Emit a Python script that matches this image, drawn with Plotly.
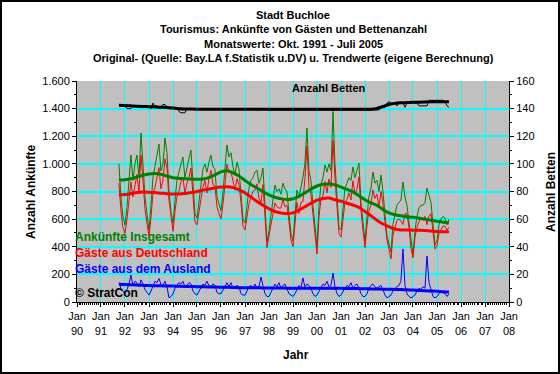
import pandas as pd
import plotly.graph_objects as go

# ---------------- data ----------------
months = pd.date_range("1991-10-01", "2005-07-01", freq="MS")
quarters = pd.date_range("1991-10-01", "2005-07-01", freq="3MS")

total = [
    1000, 760, 620,
    557, 690, 860, 1064, 880, 1000, 1064, 900, 1223, 1010, 760, 640,
    521, 700, 900, 980, 1050, 1144, 950, 1000, 1187, 1080, 800, 650,
    572, 760, 880, 940, 1000, 1050, 900, 980, 1040, 1100, 820, 640,
    608, 720, 850, 960, 1000, 940, 1010, 1064, 980, 960, 760, 700,
    660, 800, 980, 1137, 1050, 1080, 980, 920, 1013, 960, 780, 600,
    572, 700, 820, 880, 900, 940, 955, 860, 900, 970, 700, 434,
    520, 640, 760, 847, 800, 820, 780, 861, 820, 800, 640, 500,
    440, 640, 811, 760, 820, 900, 1000, 1260, 950, 880, 700, 560,
    398, 700, 850, 900, 992, 940, 1000, 950, 1380, 1000, 760, 536,
    521, 700, 820, 860, 900, 880, 977, 900, 950, 1006, 720, 560,
    434, 620, 760, 820, 941, 860, 880, 800, 920, 800, 620, 480,
    420, 362, 560, 640, 700, 720, 738, 869, 760, 700, 580, 420,
    340, 520, 620, 680, 700, 700, 720, 825, 760, 720, 560, 413,
    450, 560, 600, 620, 608, 560, 600,
]
germany = [
    860, 660, 540,
    497, 600, 730, 869, 760, 850, 924, 790, 1063, 880, 670, 570,
    471, 620, 780, 830, 910, 974, 820, 880, 1037, 970, 740, 610,
    512, 660, 760, 800, 870, 900, 790, 860, 900, 970, 740, 580,
    558, 640, 740, 830, 880, 790, 890, 954, 850, 840, 690, 640,
    600, 710, 860, 997, 940, 940, 880, 810, 893, 850, 720, 550,
    522, 620, 710, 760, 800, 810, 855, 750, 719, 850, 640, 394,
    480, 570, 660, 717, 690, 680, 680, 741, 690, 700, 580, 450,
    400, 580, 721, 640, 720, 726, 890, 1130, 830, 780, 640, 520,
    348, 620, 740, 770, 872, 790, 890, 830, 1170, 890, 700, 496,
    471, 620, 720, 740, 790, 740, 877, 780, 820, 906, 660, 520,
    394, 560, 660, 700, 811, 750, 780, 690, 800, 710, 570, 450,
    380, 312, 480, 540, 590, 600, 588, 560, 640, 640, 540, 390,
    320, 470, 540, 580, 610, 590, 620, 560, 620, 640, 520, 383,
    410, 500, 520, 550, 548, 520, 540,
]
foreign = [
    140, 100, 80,
    60, 90, 130, 195, 120, 150, 140, 110, 160, 130, 90, 70,
    50, 80, 120, 150, 140, 170, 130, 120, 150, 110, 30, 40,
    60, 100, 120, 140, 130, 150, 110, 120, 140, 130, 80, 60,
    50, 80, 110, 130, 120, 150, 120, 110, 130, 120, 70, 60,
    60, 90, 120, 140, 110, 140, 100, 110, 120, 110, 60, 50,
    50, 80, 110, 120, 100, 130, 100, 110, 181, 120, 60, 40,
    40, 70, 100, 130, 110, 140, 100, 120, 130, 100, 60, 50,
    40, 60, 90, 120, 100, 174, 110, 130, 120, 100, 60, 40,
    50, 80, 110, 130, 120, 150, 110, 120, 210, 110, 60, 40,
    50, 80, 100, 120, 110, 140, 100, 120, 130, 100, 60, 40,
    40, 60, 100, 120, 130, 110, 100, 110, 120, 90, 50, 30,
    40, 50, 80, 100, 110, 120, 150, 384, 120, 60, 40, 30,
    40, 50, 80, 100, 90, 110, 100, 333, 140, 80, 40, 30,
    40, 60, 80, 70, 60, 40, 60,
]
beds = [
    143, 143, 143,
    142, 140, 140, 140, 142, 142, 142, 142, 142, 142, 142, 142,
    141, 140, 144, 142, 142, 140, 141, 143, 143, 141, 141, 141,
    140, 140, 140, 138, 137, 137, 137, 140, 140, 140, 140, 140,
    140, 140, 140, 140, 140, 140, 140, 140, 140, 140, 140, 140,
    140, 140, 140, 140, 140, 140, 140, 140, 140, 140, 140, 140,
    140, 140, 140, 140, 140, 140, 139, 139, 140, 140, 140, 139,
    139, 139, 139, 139, 139, 139, 139, 139, 139, 139, 139, 139,
    139, 139, 139, 139, 139, 139, 139, 139, 139, 139, 139, 139,
    139, 139, 139, 139, 139, 139, 139, 139, 139, 139, 139, 139,
    139, 139, 139, 139, 139, 139, 139, 139, 139, 139, 139, 139,
    139, 139, 139, 139, 139, 139, 139, 139, 141, 141, 141, 144,
    145, 144, 144, 144, 142, 144, 144, 144, 141, 144, 144, 144,
    144, 144, 144, 142, 142, 142, 142, 142, 146, 146, 146, 146,
    146, 146, 146, 146, 145, 142, 141,
]

total_trend = [
    883,
    885, 892, 905, 918, 927, 930, 925, 912, 900, 895, 893, 890,
    888, 890, 900, 920, 942, 950, 935, 912, 880, 850, 825, 800,
    775, 758, 748, 742, 748, 765, 790, 818, 840, 852, 855, 848,
    832, 815, 797, 770, 740, 718, 700, 670, 645, 632, 624, 618,
    614, 607, 600, 592, 585, 578, 572,
]
germany_trend = [
    775,
    778, 785, 792, 796, 795, 792, 788, 784, 782, 782, 785, 792,
    800, 810, 818, 826, 832, 834, 828, 812, 790, 760, 728, 700,
    675, 655, 645, 640, 645, 665, 690, 715, 737, 750, 753, 740,
    730, 715, 702, 685, 655, 625, 592, 565, 545, 528, 522, 521,
    520, 519, 517, 514, 511, 509, 508,
]
foreign_trend = [
    128,
    127, 125, 123, 121, 119, 118, 117, 116, 115, 114, 113, 112,
    111, 110, 109, 108, 107, 106, 105, 104, 104, 103, 103, 102,
    102, 101, 101, 100, 100, 100, 100, 100, 100, 100, 99, 99,
    99, 98, 98, 97, 96, 95, 94, 93, 92, 91, 90, 88,
    86, 84, 82, 80, 78, 75, 73,
]
beds_trend = [
    142.5,
    142.3, 142.0, 141.8, 141.6, 141.4, 141.2, 141.0, 140.8, 140.4, 140.0, 139.8, 139.7,
    139.6, 139.6, 139.6, 139.6, 139.5, 139.5, 139.5, 139.5, 139.5, 139.5, 139.5, 139.5,
    139.5, 139.5, 139.5, 139.5, 139.5, 139.5, 139.5, 139.5, 139.5, 139.5, 139.5, 139.5,
    139.5, 139.5, 139.5, 139.5, 139.5, 139.6, 140.2, 141.5, 143.0, 143.8, 144.2, 144.4,
    144.6, 144.7, 144.8, 144.9, 145.0, 145.0, 145.0,
]

year_ticks = [f"{y}-01-01" for y in range(1990, 2009)]
year_labels = [f"Jan<br>{str(y)[2:]}" for y in range(1990, 2009)]
left_ticks = list(range(0, 1601, 200))
left_labels = ["0", "200", "400", "600", "800", "1.000", "1.200", "1.400", "1.600"]
right_ticks = list(range(0, 161, 20))

title_lines = [
    "Stadt Buchloe",
    "Tourismus: Ankünfte von Gästen und Bettenanzahl",
    "Monatswerte: Okt. 1991 - Juli 2005",
    "Original- (Quelle: Bay.LA f.Statistik u.DV) u. Trendwerte (eigene Berechnung)",
]

# ---------------- figure ----------------
W, H = 560, 374
ML, MR, MT, MB = 77, 51, 81, 72
PW, PH = W - ML - MR, H - MT - MB
FONT = "Liberation Sans"

def px(x):
    return (x - ML) / PW

def py(y):
    return (H - MB - y) / PH

GREEN, RED, BLUE = "#008000", "#FF0000", "#0000FF"

fig = go.Figure()
fig.add_trace(go.Scatter(x=months, y=total, mode="lines", line=dict(color=GREEN, width=1)))
fig.add_trace(go.Scatter(x=months, y=germany, mode="lines", line=dict(color=RED, width=1)))
fig.add_trace(go.Scatter(x=months, y=foreign, mode="lines", line=dict(color=BLUE, width=1)))
fig.add_trace(go.Scatter(x=quarters, y=total_trend, mode="lines", line=dict(color=GREEN, width=3, shape="spline")))
fig.add_trace(go.Scatter(x=quarters, y=germany_trend, mode="lines", line=dict(color=RED, width=3, shape="spline")))
fig.add_trace(go.Scatter(x=quarters, y=foreign_trend, mode="lines", line=dict(color=BLUE, width=3, shape="spline")))
fig.add_trace(go.Scatter(x=months, y=beds, mode="lines", line=dict(color="black", width=1), yaxis="y2"))
fig.add_trace(go.Scatter(x=quarters, y=beds_trend, mode="lines", line=dict(color="black", width=3, shape="spline"), yaxis="y2"))

annotations = []
for i, t in enumerate(title_lines):
    annotations.append(dict(text=f"<b>{t}</b>", x=0.5, xref="paper", xanchor="center",
                            y=py([15, 29, 44, 58][i]), yref="paper", yanchor="middle",
                            showarrow=False, font=dict(family=FONT, size=11, color="black")))
legend_items = [("Ankünfte Insgesamt", GREEN, 237), ("Gäste aus Deutschland", RED, 253),
                ("Gäste aus dem Ausland", BLUE, 269), ("© StratCon", "black", 293)]
for t, c, y in legend_items:
    annotations.append(dict(text=f"<b>{t}</b>", x=px(73), xref="paper", xanchor="left",
                            y=py(y), yref="paper", yanchor="middle", showarrow=False,
                            font=dict(family=FONT, size=12, color=c)))
annotations.append(dict(text="<b>Anzahl Betten</b>", x=px(290), xref="paper", xanchor="left",
                        y=py(88), yref="paper", yanchor="middle", showarrow=False,
                        font=dict(family=FONT, size=11, color="black")))
annotations.append(dict(text="<b>Anzahl Ankünfte</b>", x=px(31), xref="paper", xanchor="center",
                        y=py(192), yref="paper", yanchor="middle", showarrow=False, textangle=-90,
                        font=dict(family=FONT, size=12, color="black")))
annotations.append(dict(text="<b>Anzahl Betten</b>", x=px(551), xref="paper", xanchor="center",
                        y=py(192), yref="paper", yanchor="middle", showarrow=False, textangle=-90,
                        font=dict(family=FONT, size=12, color="black")))
annotations.append(dict(text="<b>Jahr</b>", x=px(296), xref="paper", xanchor="center",
                        y=py(355), yref="paper", yanchor="middle", showarrow=False,
                        font=dict(family=FONT, size=12, color="black")))

shapes = [dict(type="rect", xref="paper", yref="paper",
               x0=px(1), x1=px(W - 1), y0=py(H - 1), y1=py(1),
               line=dict(color="black", width=2), fillcolor="rgba(0,0,0,0)", layer="above")]

fig.update_layout(
    width=W, height=H, autosize=False,
    margin=dict(l=ML, r=MR, t=MT, b=MB, pad=0),
    paper_bgcolor="white", plot_bgcolor="#C0C0C0",
    showlegend=False,
    font=dict(family=FONT, size=11, color="black"),
    annotations=annotations, shapes=shapes,
    xaxis=dict(type="date", range=["1990-01-01", "2008-01-01"],
               tickvals=year_ticks, ticktext=year_labels,
               showgrid=True, gridcolor="#00FFFF", gridwidth=1,
               showline=True, linecolor="black", linewidth=1,
               ticks="outside", ticklen=4, tickcolor="black",
               minor=dict(dtick="M1", ticks="outside", ticklen=2, tickcolor="black", showgrid=False),
               tickfont=dict(family=FONT, size=11), zeroline=False),
    yaxis=dict(range=[0, 1600], tickvals=left_ticks, ticktext=left_labels,
               showgrid=True, gridcolor="#00FFFF", gridwidth=2,
               showline=True, linecolor="black", linewidth=1,
               ticks="outside", ticklen=4, tickcolor="black",
               minor=dict(dtick=100, ticks="outside", ticklen=2, tickcolor="black", showgrid=False),
               tickfont=dict(family=FONT, size=11), zeroline=False),
    yaxis2=dict(range=[0, 160], tickvals=right_ticks, overlaying="y", side="right",
                showgrid=False, showline=True, linecolor="black", linewidth=1,
                ticks="outside", ticklen=4, tickcolor="black",
                minor=dict(dtick=10, ticks="outside", ticklen=2, tickcolor="black"),
                tickfont=dict(family=FONT, size=11), zeroline=False),
)

fig.write_html("out.html", config={"displayModeBar": False},
               post_script="document.body.style.margin='0px';")
